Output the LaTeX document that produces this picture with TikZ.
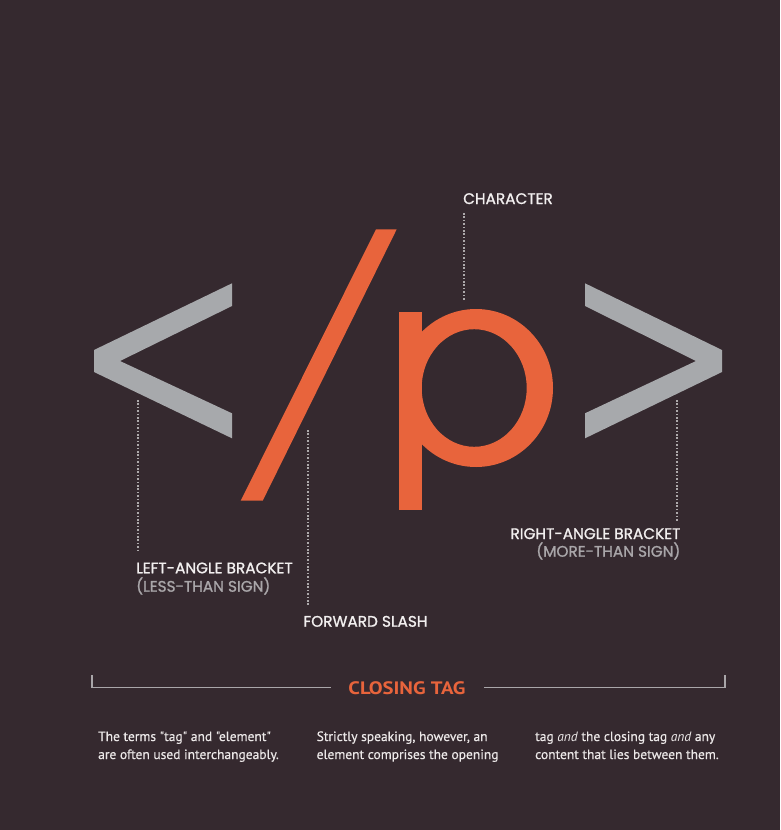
\documentclass[tikz,border=0pt]{standalone}
\usepackage{fontspec}
\setmainfont{PT Sans}
\newfontfamily\labfont{Poppins}[FakeBold=1.2]
\newfontfamily\bodyfont{PT Sans}[FakeBold=0.4]
\newfontfamily\ctfont{PT Sans Bold}
\definecolor{bg}{HTML}{35292F}
\definecolor{tagorange}{HTML}{E8643C}
\definecolor{glyphgray}{HTML}{A7A9AC}
\definecolor{labwhite}{HTML}{F2EFEF}
\definecolor{subgray}{HTML}{A9A6A9}
\definecolor{dotgray}{HTML}{ADA9AB}
\definecolor{bodywhite}{HTML}{ECE8E8}
\tikzset{
  lab/.style={inner sep=0pt, text=labwhite, font=\labfont\fontsize{15.3}{17}\selectfont},
  sublab/.style={lab, text=subgray},
  dotline/.style={draw=dotgray, line width=1.8pt, dash pattern=on 1.6pt off 1.8pt},
  bodytxt/.style={inner sep=0pt, text=bodywhite, font=\bodyfont\fontsize{13.5}{18}\selectfont, align=left},
  bracketline/.style={draw=subgray, line width=1.5pt},
}
\begin{document}
\begin{tikzpicture}[x=1pt,y=-1pt]
\fill[bg] (0,0) rectangle (780,830);
\useasboundingbox (0,0) rectangle (780,830);
% left angle bracket
\fill[glyphgray] (232,283.3) -- (94,350) -- (94,372) -- (232,438.3) -- (232,413.3) -- (120,361) -- (232,306) -- cycle;
% slash
\fill[tagorange] (376,229.3) -- (396.7,229.3) -- (262.7,500.7) -- (240.7,500.7) -- cycle;
% p
\fill[tagorange] (399,311.7) rectangle (422.3,510);
\fill[tagorange, even odd rule] (476,388) ellipse [x radius=77, y radius=79] (474.2,388) ellipse [x radius=52.5, y radius=58.8];
% right angle bracket
\fill[glyphgray] (585,283.3) -- (722,350) -- (722,372) -- (585,438.3) -- (585,413.3) -- (696,361) -- (585,306) -- cycle;

% labels
\node[lab, anchor=base west] (char) at (463,204) {CHARACTER};
\node[lab, anchor=base west] (lab1) at (136,573.3) {LEFT-ANGLE BRACKET};
\node[sublab, anchor=base west] (lab1b) at (136,591.7) {(LESS-THAN SIGN)};
\node[lab, anchor=base west] (fslash) at (303.3,626.7) {FORWARD SLASH};
\node[lab, anchor=base east] (lab2) at (680.6,539) {RIGHT-ANGLE BRACKET};
\node[sublab, anchor=base east] (lab2b) at (680.6,556.7) {(MORE-THAN SIGN)};

% connector ends
\coordinate (pTop) at (464,300);
\coordinate (charEnd) at (464,213);
\coordinate (ltTop) at (138.3,400);
\coordinate (ltEnd) at (138.3,551.7);
\coordinate (slTop) at (307.7,430);
\coordinate (slEnd) at (307.7,606.7);
\coordinate (gtTop) at (677.3,400);
\coordinate (gtEnd) at (677.3,521.7);
\draw[dotline] (charEnd) -- (pTop);
\draw[dotline] (ltTop) -- (ltEnd);
\draw[dotline] (slTop) -- (slEnd);
\draw[dotline] (gtTop) -- (gtEnd);

% closing tag bracket
\node[inner sep=0pt, text=tagorange, font=\ctfont\fontsize{18}{20}\selectfont] (ct) at (407,688) {\scalebox{1.15}[1]{CLOSING TAG}};
\coordinate (bl1) at (92,675);
\coordinate (bl2) at (92,687.5);
\coordinate (bl3) at (331,687.5);
\coordinate (br1) at (484,687.5);
\coordinate (br2) at (725,687.5);
\coordinate (br3) at (725,675);
\draw[bracketline] (bl1) -- (bl2) -- (bl3);
\draw[bracketline] (br1) -- (br2) -- (br3);

% body text
\node[bodytxt, anchor=base west] (t1) at (98,759) {The terms \symbol{34}tag\symbol{34} and \symbol{34}element\symbol{34}\\are often used interchangeably.};
\node[bodytxt, anchor=base west] (t2) at (316.5,759) {Strictly speaking, however, an\\element comprises the opening};
\node[bodytxt, anchor=base west] (t3) at (535,759) {tag {\fontspec{PT Sans Italic}and} the closing tag {\fontspec{PT Sans Italic}and} any\\content that lies between them.};
\end{tikzpicture}
\end{document}
